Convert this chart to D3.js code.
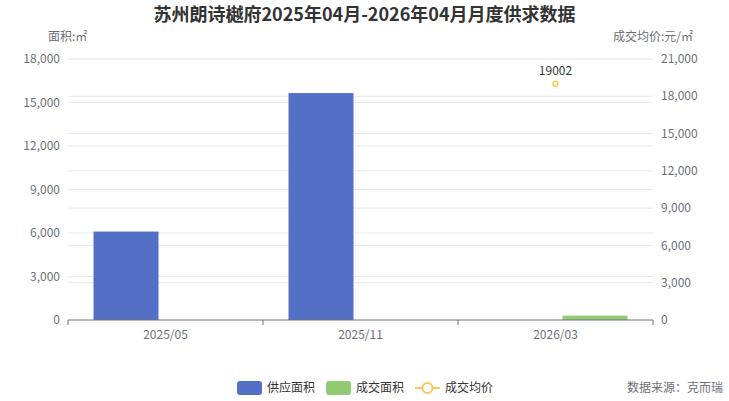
<!DOCTYPE html>
<html>
<head>
<meta charset="utf-8">
<script src="https://cdn.jsdelivr.net/npm/d3@7"></script>
<style>
body { margin: 0; background: #fff; }
svg text { font-family: "Noto Sans CJK SC", "Noto Sans", sans-serif; }
</style>
</head>
<body>
<div id="chart"></div>
<script>
const width = 729;
const height = 401;

const categories = ["2025/05", "2025/11", "2026/03"];
const supplyArea = [6100, 15650, 0];
const dealArea = [0, 0, 300];
const dealPrice = [null, null, 19002];
const leftTicks = [0, 3000, 6000, 9000, 12000, 15000, 18000];
const rightTicks = [0, 3000, 6000, 9000, 12000, 15000, 18000, 21000];

const margin = { top: 59, right: 76, bottom: 81, left: 68 };
const plotW = width - margin.left - margin.right;
const plotH = height - margin.top - margin.bottom;

let svg = d3
	.select("#chart")
	.append("svg")
	.attr("width", width)
	.attr("height", height);

svg.append("text")
	.attr("x", width / 2)
	.attr("y", 21)
	.attr("text-anchor", "middle")
	.attr("font-size", "18px")
	.attr("font-weight", "bold")
	.attr("fill", "#333")
	.text("苏州朗诗樾府2025年04月-2026年04月月度供求数据");

const g = svg.append("g").attr("transform", `translate(${margin.left},${margin.top})`);

const x = d3.scaleBand().domain(categories).range([0, plotW]);
const yL = d3.scaleLinear().domain([0, 18000]).range([plotH, 0]);
const yR = d3.scaleLinear().domain([0, 21000]).range([plotH, 0]);

// gridlines, both axes
g.selectAll(".gl")
	.data(leftTicks.slice(1))
	.join("line")
	.attr("x1", 0).attr("x2", plotW)
	.attr("y1", d => yL(d)).attr("y2", d => yL(d))
	.attr("stroke", "#e6e9f2");
g.selectAll(".gr")
	.data(rightTicks.slice(1))
	.join("line")
	.attr("x1", 0).attr("x2", plotW)
	.attr("y1", d => yR(d)).attr("y2", d => yR(d))
	.attr("stroke", "#e6e9f2");

// left labels
g.selectAll(".tl")
	.data(leftTicks)
	.join("text")
	.attr("x", -8)
	.attr("y", d => yL(d))
	.attr("dy", "0.35em")
	.attr("text-anchor", "end")
	.attr("font-size", "12px")
	.attr("fill", "#6e7079")
	.text(d => d3.format(",")(d));

g.selectAll(".tr")
	.data(rightTicks)
	.join("text")
	.attr("x", plotW + 8)
	.attr("y", d => yR(d))
	.attr("dy", "0.35em")
	.attr("text-anchor", "start")
	.attr("font-size", "12px")
	.attr("fill", "#6e7079")
	.text(d => d3.format(",")(d));

svg.append("text")
	.attr("x", margin.left - 20)
	.attr("y", 41)
	.attr("font-size", "12px")
	.attr("fill", "#6e7079")
	.text("面积:㎡");
svg.append("text")
	.attr("x", width - 36)
	.attr("y", 41)
	.attr("text-anchor", "end")
	.attr("font-size", "12px")
	.attr("fill", "#6e7079")
	.text("成交均价:元/㎡");

// bars
const barW = 65;
const gap = 14;
const inner = barW * 2 + gap;

g.selectAll(".supply")
	.data(categories)
	.join("rect")
	.attr("x", d => x(d) + (x.bandwidth() - inner) / 2)
	.attr("y", (d, i) => yL(supplyArea[i]))
	.attr("width", barW)
	.attr("height", (d, i) => plotH - yL(supplyArea[i]))
	.attr("fill", "#5470c6");

g.selectAll(".deal")
	.data(categories)
	.join("rect")
	.attr("x", d => x(d) + (x.bandwidth() - inner) / 2 + barW + gap)
	.attr("y", (d, i) => yL(dealArea[i]))
	.attr("width", barW)
	.attr("height", (d, i) => plotH - yL(dealArea[i]))
	.attr("fill", "#91cc75");

// x axis
g.append("line")
	.attr("x1", 0).attr("x2", plotW)
	.attr("y1", plotH).attr("y2", plotH)
	.attr("stroke", "#6e7079");
g.selectAll(".xt")
	.data(d3.range(categories.length + 1))
	.join("line")
	.attr("x1", i => i * x.step()).attr("x2", i => i * x.step())
	.attr("y1", plotH).attr("y2", plotH + 5)
	.attr("stroke", "#6e7079");
g.selectAll(".xl")
	.data(categories)
	.join("text")
	.attr("x", d => x(d) + x.bandwidth() / 2)
	.attr("y", plotH + 19)
	.attr("text-anchor", "middle")
	.attr("font-size", "12px")
	.attr("fill", "#6e7079")
	.text(d => d);

// price points
const pts = categories.map((c, i) => ({ c, v: dealPrice[i] })).filter(d => d.v != null);
g.selectAll(".pt")
	.data(pts)
	.join("circle")
	.attr("cx", d => x(d.c) + x.bandwidth() / 2)
	.attr("cy", d => yR(d.v))
	.attr("r", 2.5)
	.attr("fill", "#fff")
	.attr("stroke", "#fac858")
	.attr("stroke-width", 1.5);
g.selectAll(".ptl")
	.data(pts)
	.join("text")
	.attr("x", d => x(d.c) + x.bandwidth() / 2)
	.attr("y", d => yR(d.v) - 9)
	.attr("text-anchor", "middle")
	.attr("font-size", "12px")
	.attr("fill", "#333")
	.text(d => d.v);

// legend
const legend = svg.append("g").attr("transform", "translate(0,388)");
const items = [
	{ name: "供应面积", x: 237, type: "rect", color: "#5470c6" },
	{ name: "成交面积", x: 326, type: "rect", color: "#91cc75" },
	{ name: "成交均价", x: 415, type: "line", color: "#fac858" },
];
items.forEach(it => {
	if (it.type === "rect") {
		legend.append("rect")
			.attr("x", it.x).attr("y", -7)
			.attr("width", 25).attr("height", 14)
			.attr("rx", 3)
			.attr("fill", it.color);
	} else {
		legend.append("line")
			.attr("x1", it.x).attr("x2", it.x + 25)
			.attr("y1", 0).attr("y2", 0)
			.attr("stroke", it.color).attr("stroke-width", 2);
		legend.append("circle")
			.attr("cx", it.x + 12.5).attr("cy", 0).attr("r", 5)
			.attr("fill", "#fff")
			.attr("stroke", it.color).attr("stroke-width", 2);
	}
	legend.append("text")
		.attr("x", it.x + 30)
		.attr("y", 0)
		.attr("dy", "0.35em")
		.attr("font-size", "12px")
		.attr("fill", "#333")
		.text(it.name);
});

svg.append("text")
	.attr("x", width - 6)
	.attr("y", 388)
	.attr("dy", "0.35em")
	.attr("text-anchor", "end")
	.attr("font-size", "12px")
	.attr("fill", "#6e7079")
	.text("数据来源：克而瑞");
</script>
</body>
</html>
